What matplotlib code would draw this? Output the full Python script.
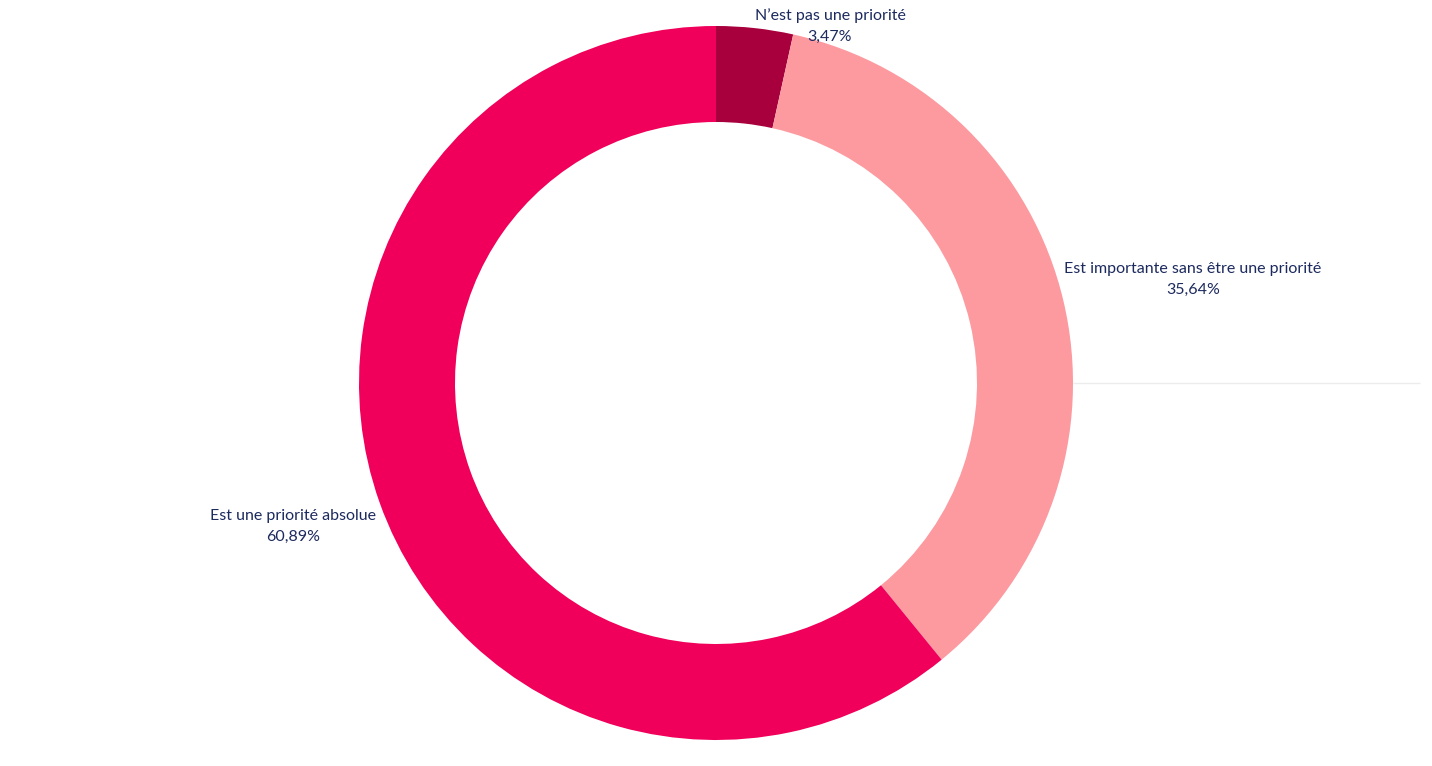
import matplotlib
matplotlib.use("Agg")
import matplotlib.pyplot as plt

labels = ["N\u2019est pas une priorité", "Est importante sans être une priorité", "Est une priorité absolue"]
values = [3.47, 35.64, 60.89]
colors = ["#A8003C", "#FC9AA0", "#F0005A"]

# where each label sits (pixels, origin top-left)
label_pos = [(830, 8), (1193, 262), (293, 509)]

W, H = 1432, 766
cx, cy = 716, 383
r_out, r_in = 357, 261

fig = plt.figure(figsize=(W / 100, H / 100), dpi=100)
ax = fig.add_axes([0, 0, 1, 1])
ax.set_xlim(0, W)
ax.set_ylim(0, H)
ax.set_aspect("equal")
ax.axis("off")

# faint reference line to the right of the ring
ax.hlines(H - cy, cx + r_out, 1420, color="#ececec", lw=1, zorder=0)

ax.pie(values, colors=colors, startangle=90, counterclock=False,
       radius=r_out, center=(cx, H - cy),
       wedgeprops=dict(width=r_out - r_in, linewidth=0))
ax.set_xlim(0, W)
ax.set_ylim(0, H)

txt_color = "#1c2a5e"
for lab, val, (x, y) in zip(labels, values, label_pos):
    pct = f"{val:.2f}".replace(".", ",") + "%"
    ax.text(x, H - y, lab + "\n" + pct, ha="center", va="top",
            fontsize=11.5, color=txt_color, family="Lato", linespacing=1.6)

fig.savefig("out.png", dpi=100)
